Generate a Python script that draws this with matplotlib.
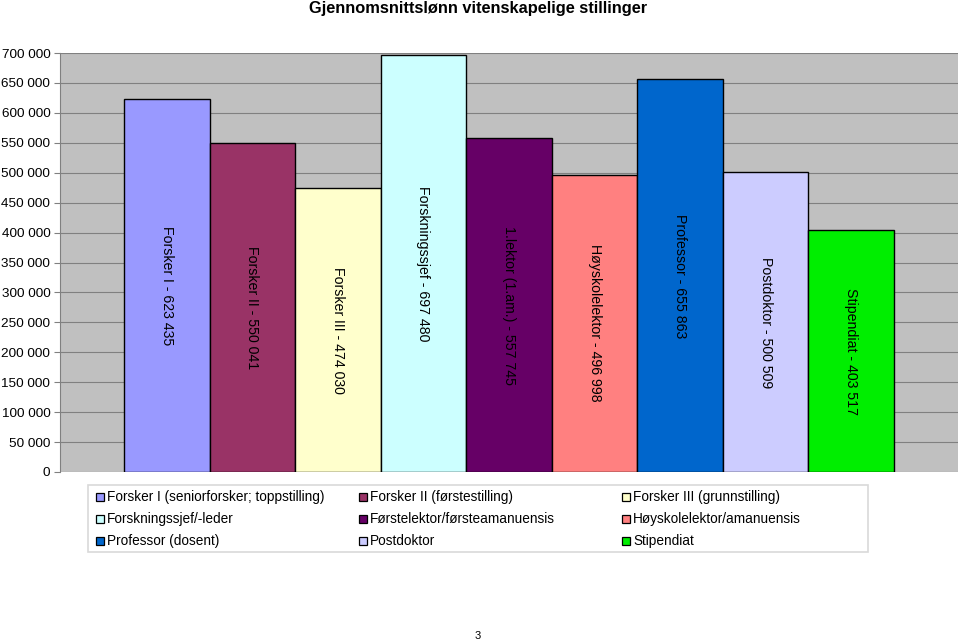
import numpy as np
import matplotlib.pyplot as plt
from matplotlib.patches import Rectangle
from matplotlib.ticker import FuncFormatter

plt.rcParams['font.family'] = ['Liberation Sans', 'DejaVu Sans']

# data
legend_names = ['Forsker I (seniorforsker; toppstilling)', 'Forsker II (førstestilling)',
                'Forsker III (grunnstilling)', 'Forskningssjef/-leder',
                'Førstelektor/førsteamanuensis', 'Høyskolelektor/amanuensis',
                'Professor (dosent)', 'Postdoktor', 'Stipendiat']
bar_names = ['Forsker I', 'Forsker II', 'Forsker III', 'Forskningssjef',
             '1.lektor (1.am.)', 'Høyskolelektor', 'Professor', 'Postdoktor', 'Stipendiat']
salaries = [623435, 550041, 474030, 697480, 557745, 496998, 655863, 500509, 403517]
colors = ['#9999FF', '#993366', '#FFFFCC', '#CCFFFF', '#660066',
          '#FF8080', '#0066CC', '#CCCCFF', '#00EE00']

W, H = 959, 643

def fmt(v):
    return '{:,}'.format(int(v)).replace(',', ' ')

fig = plt.figure(figsize=(W/100, H/100), dpi=100)
ax = fig.add_axes([60/W, 1-472/H, 898/W, 419/H])
ax.set_facecolor('#C0C0C0')

x = np.arange(len(salaries))
ax.bar(x, salaries, width=1.0, color=colors, edgecolor='black', linewidth=1, zorder=3)
for xi, v, n in zip(x, salaries, bar_names):
    ax.text(xi, v/2, n + ' - ' + fmt(v), rotation=-90, ha='center', va='center',
            fontsize=10.2, color='black', zorder=4)

ax.set_xlim(-1.25, 9.25)
ax.set_ylim(0, 700000)
ax.set_yticks(np.arange(0, 700001, 50000))
ax.yaxis.set_major_formatter(FuncFormatter(lambda v, p: fmt(v)))
ax.tick_params(axis='y', labelsize=9.7, length=4, color='#808080', pad=3)
ax.set_xticks([])
ax.grid(axis='y', color='#808080', linewidth=0.8, zorder=0)
for s in ['top', 'right', 'bottom']:
    ax.spines[s].set_visible(False)
ax.spines['left'].set_color('#808080')

fig.text(478/W, 1-9/H, 'Gjennomsnittslønn vitenskapelige stillinger', ha='center', va='center',
         fontsize=11.8, fontweight='bold')

# legend drawn by hand: equal-width columns like the original
fig.patches.append(Rectangle((88/W, 1-552/H), 780/W, 67/H, transform=fig.transFigure,
                             facecolor='white', edgecolor='#D9D9D9', linewidth=1.2))
col_x = [96, 359, 622]
row_y = [497, 519, 541]
for i, (name, c) in enumerate(zip(legend_names, colors)):
    px = col_x[i % 3]
    py = row_y[i // 3]
    fig.patches.append(Rectangle((px/W, 1-(py+4)/H), 8/W, 8/H, transform=fig.transFigure,
                                 facecolor=c, edgecolor='black', linewidth=0.9))
    fig.text((px+11)/W, 1-py/H, name, ha='left', va='center', fontsize=9.8)

fig.text(478/W, 1-636/H, '3', ha='center', va='center', fontsize=8)

fig.savefig('out.png', dpi=100)
